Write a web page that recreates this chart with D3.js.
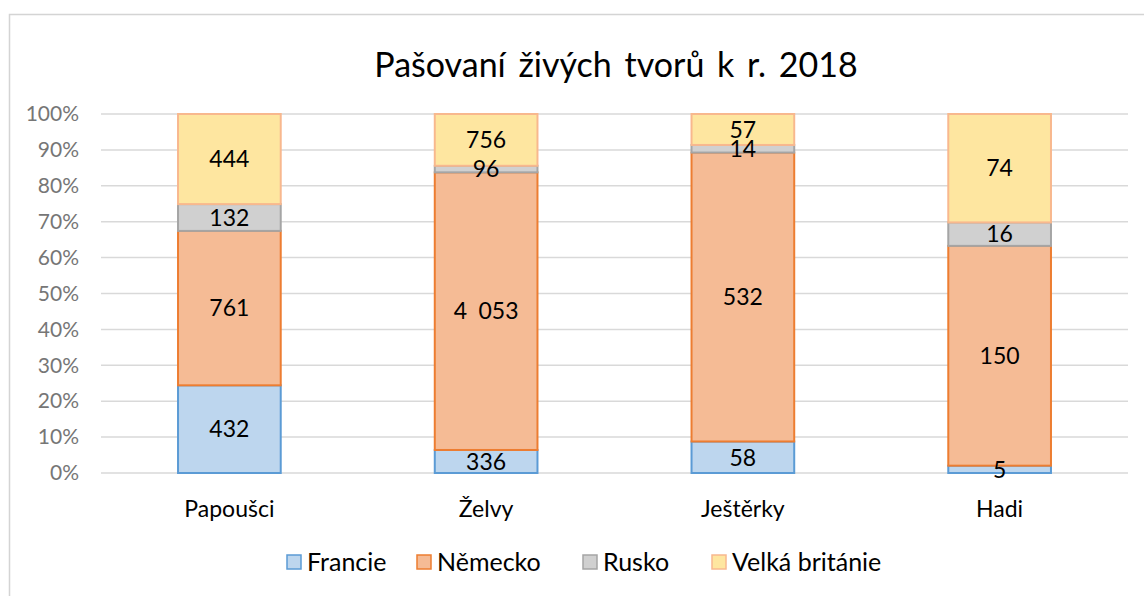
<!DOCTYPE html>
<html>
<head>
<meta charset="utf-8">
<script src="https://cdn.jsdelivr.net/npm/d3@7"></script>
<style>
  body { margin: 0; background: #fff; font-family: Lato, "Noto Sans", sans-serif; }
</style>
</head>
<body>
<div id="plot"></div>
<script>
// chart data
const categories = ["Papoušci", "Želvy", "Ještěrky", "Hadi"];
const seriesNames = ["Francie", "Německo", "Rusko", "Velká británie"];
const francie = [432, 336, 58, 5];
const nemecko = [761, 4053, 532, 150];
const rusko = [132, 96, 14, 16];
const velkaBritanie = [444, 756, 57, 74];
const yTicks = [0, 0.1, 0.2, 0.3, 0.4, 0.5, 0.6, 0.7, 0.8, 0.9, 1];

const fills = ["#bdd6ee", "#f5bb95", "#d0d0d0", "#fee6a0"];
const strokes = ["#5b9bd5", "#ed7d31", "#a5a5a5", "#f8b88e"];

const width = 1144, height = 596;
const svg = d3.select("#plot").append("svg")
    .attr("width", width)
    .attr("height", height);

// outer frame
svg.append("path")
    .attr("d", `M${width},14.5 H9.5 V${height}`)
    .attr("fill", "none")
    .attr("stroke", "#d4d4d4")
    .attr("stroke-width", 1.5);

const margin = { left: 101, right: 16, top: 114, bottom: 123 };
const x = d3.scaleBand()
    .domain(categories)
    .range([margin.left, width - margin.right])
    .paddingInner(0.6)
    .paddingOuter(0.3);

const y = d3.scaleLinear()
    .domain([0, 1])
    .range([height - margin.bottom, margin.top]);

// gridlines
svg.append("g")
    .selectAll("line")
    .data(yTicks)
    .enter().append("line")
    .attr("x1", margin.left)
    .attr("x2", width - margin.right)
    .attr("y1", d => y(d))
    .attr("y2", d => y(d))
    .attr("stroke", "#d9d9d9")
    .attr("stroke-width", 1.5);

// y tick labels
const yAxis = d3.axisLeft(y).tickValues(yTicks).tickFormat(d3.format(".0%")).tickSize(0).tickPadding(22);
const yg = svg.append("g").attr("transform", `translate(${margin.left},0)`).call(yAxis);
yg.select(".domain").remove();
yg.selectAll("text")
    .style("font-family", "Lato, sans-serif")
    .style("font-size", "21px")
    .attr("fill", "#767676");

// stack the data
const rows = categories.map((c, i) => ({
    cat: c,
    "Francie": francie[i],
    "Německo": nemecko[i],
    "Rusko": rusko[i],
    "Velká británie": velkaBritanie[i]
}));
const stack = d3.stack().keys(seriesNames).offset(d3.stackOffsetExpand);
const layers = stack(rows);

const fmt = v => d3.format(",")(v).replace(/,/g, "\u2002");

layers.forEach((layer, si) => {
    const g = svg.append("g");
    g.selectAll("rect")
        .data(layer)
        .enter().append("rect")
        .attr("x", d => x(d.data.cat))
        .attr("width", x.bandwidth())
        .attr("y", d => y(d[1]))
        .attr("height", d => y(d[0]) - y(d[1]))
        .attr("fill", fills[si])
        .attr("stroke", strokes[si])
        .attr("stroke-width", 2);
});

layers.forEach(layer => {
    svg.append("g").selectAll("text")
        .data(layer)
        .enter().append("text")
        .attr("x", d => x(d.data.cat) + x.bandwidth() / 2)
        .attr("y", d => (y(d[0]) + y(d[1])) / 2)
        .attr("dy", "0.36em")
        .attr("text-anchor", "middle")
        .style("font-size", "23px")
        .attr("fill", "#000")
        .text(d => fmt(d.data[layer.key]));
});

// category labels
svg.append("g").selectAll("text")
    .data(categories)
    .enter().append("text")
    .attr("x", d => x(d) + x.bandwidth() / 2)
    .attr("y", 517)
    .attr("text-anchor", "middle")
    .style("font-size", "23px")
    .attr("fill", "#000")
    .text(d => d);

// title
svg.append("text")
    .attr("x", 616)
    .attr("y", 77)
    .attr("text-anchor", "middle")
    .style("font-size", "34px")
    .style("word-spacing", "4px")
    .attr("fill", "#000")
    .text("Pašovaní  živých  tvorů  k r. 2018");

// legend
const legendX = [287, 417, 583, 712];
const legend = svg.append("g");
seriesNames.forEach((name, i) => {
    const item = legend.append("g").attr("transform", `translate(${legendX[i]},555)`);
    item.append("rect")
        .attr("width", 14)
        .attr("height", 14)
        .attr("fill", fills[i])
        .attr("stroke", strokes[i])
        .attr("stroke-width", 1.5);
    item.append("text")
        .attr("x", 20)
        .attr("y", 7)
        .attr("dy", "0.36em")
        .style("font-size", "25px")
        .attr("fill", "#000")
        .text(name);
});
</script>
</body>
</html>
